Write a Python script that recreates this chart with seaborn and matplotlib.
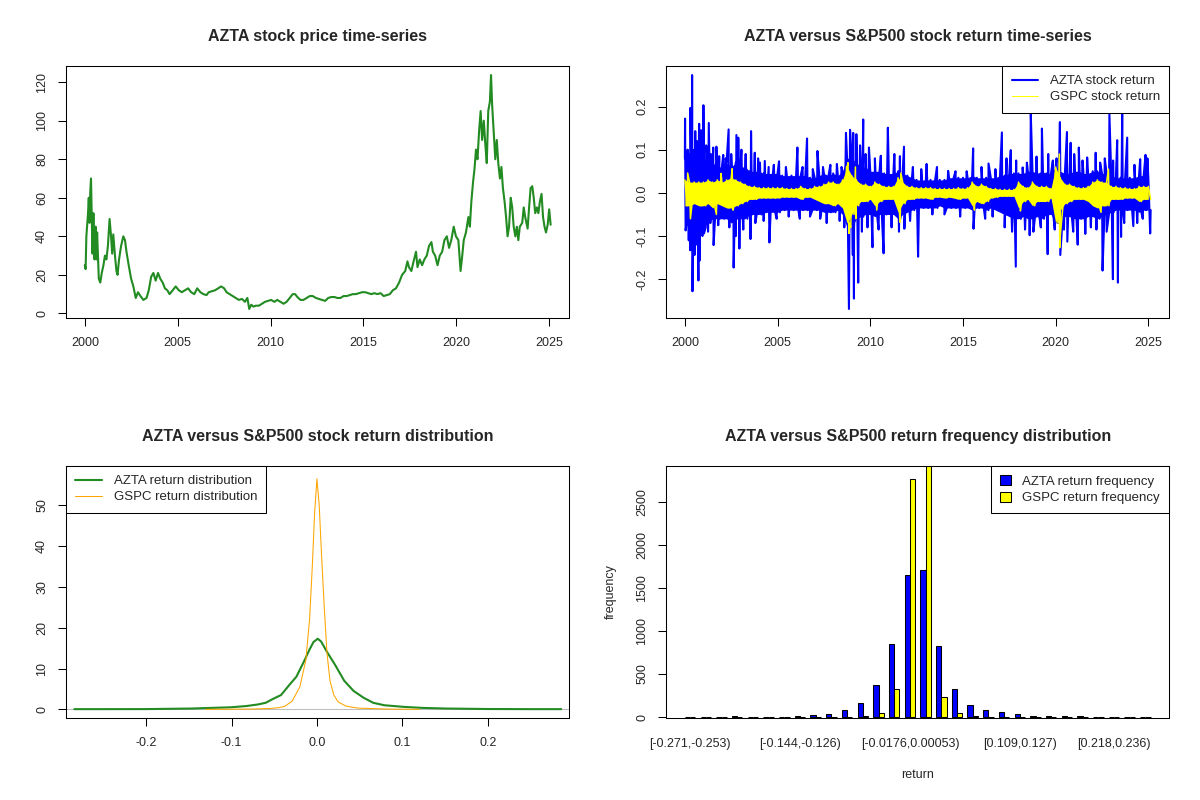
import numpy as np
import pandas as pd
import seaborn as sns
import matplotlib
matplotlib.use("Agg")
import matplotlib.pyplot as plt
from matplotlib.lines import Line2D
from matplotlib.patches import Patch

############### DATA ###############

# AZTA close price: years after 2000 / price
price_t = [0.00, 0.04, 0.08, 0.17, 0.21, 0.25, 0.29, 0.33, 0.37, 0.41,
           0.46, 0.52, 0.58, 0.62, 0.66, 0.75, 0.83, 0.91, 1.00, 1.08,
           1.16, 1.24, 1.33, 1.41, 1.47, 1.53, 1.62, 1.70, 1.76, 1.84,
           1.95, 2.07, 2.16, 2.24, 2.36, 2.49, 2.61, 2.74, 2.86, 2.99,
           3.15, 3.32, 3.44, 3.57, 3.69, 3.81, 3.94, 4.06, 4.19, 4.31,
           4.44, 4.56, 4.73, 4.89, 5.06, 5.22, 5.39, 5.56, 5.72, 5.89,
           6.05, 6.22, 6.38, 6.55, 6.67, 6.84, 7.01, 7.17, 7.34, 7.50,
           7.63, 7.79, 7.96, 8.13, 8.29, 8.46, 8.62, 8.75, 8.85, 8.96,
           9.08, 9.20, 9.37, 9.54, 9.70, 9.87, 10.03, 10.20, 10.36, 10.53,
           10.70, 10.86, 11.03, 11.19, 11.32, 11.44, 11.61, 11.77, 11.94, 12.11,
           12.27, 12.44, 12.60, 12.77, 12.94, 13.10, 13.27, 13.43, 13.60, 13.76,
           13.93, 14.10, 14.26, 14.43, 14.59, 14.76, 14.93, 15.09, 15.26, 15.42,
           15.59, 15.75, 15.92, 16.09, 16.25, 16.42, 16.58, 16.75, 16.92, 17.08,
           17.25, 17.37, 17.45, 17.58, 17.70, 17.83, 17.91, 18.03, 18.16, 18.28,
           18.41, 18.53, 18.66, 18.74, 18.86, 18.99, 19.11, 19.24, 19.36, 19.49,
           19.61, 19.73, 19.86, 19.98, 20.11, 20.23, 20.32, 20.40, 20.52, 20.65,
           20.73, 20.81, 20.90, 20.98, 21.06, 21.14, 21.23, 21.31, 21.39, 21.48,
           21.56, 21.64, 21.72, 21.81, 21.87, 21.93, 22.01, 22.10, 22.18, 22.26,
           22.35, 22.43, 22.51, 22.60, 22.68, 22.76, 22.84, 22.93, 23.01, 23.09,
           23.18, 23.26, 23.34, 23.42, 23.55, 23.63, 23.71, 23.84, 23.92, 24.00,
           24.09, 24.17, 24.25, 24.34, 24.42, 24.50, 24.59, 24.67, 24.75, 24.83,
           24.92, 25.00, 25.08]
price_usd = [25, 23, 40, 52, 60, 47, 63, 70, 50, 31,
             52, 28, 45, 28, 42, 18, 16, 21, 25, 30,
             28, 35, 49, 40, 31, 41, 30, 22, 20, 28,
             35, 40, 38, 32, 25, 18, 14, 8, 11, 9,
             7, 8, 12, 19, 21, 17, 21, 18, 16, 13,
             12, 10, 12, 14, 12, 11, 12, 13, 11, 10,
             13, 11, 10, 9.5, 11, 11.5, 12, 13, 14, 13,
             11, 10, 9, 8, 7, 7.5, 6, 8, 2.3, 4.5,
             3.5, 4, 4, 5, 6, 6.5, 7, 6, 7, 6,
             5, 6, 8, 10, 10, 8.5, 7, 7, 8, 9,
             9, 8, 7.5, 7, 6.5, 8, 8.5, 8.5, 8, 8,
             9, 9, 9.5, 10, 10, 10.5, 11, 11, 10.5, 10,
             10.5, 10, 10.5, 9, 9.5, 10, 12, 13, 16, 20,
             22, 27, 24, 22, 27, 32, 24, 28, 25, 28,
             30, 35, 37, 32, 30, 25, 30, 32, 38, 40,
             34, 38, 45, 40, 38, 22, 30, 38, 42, 50,
             45, 58, 68, 75, 85, 80, 95, 105, 90, 100,
             88, 78, 105, 110, 123.7, 108, 95, 80, 90, 78,
             70, 76, 65, 58, 50, 40, 45, 60, 55, 45,
             40, 45, 38, 45, 47, 55, 50, 44, 55, 65,
             66, 60, 52, 55, 52, 58, 62, 50, 45, 42,
             46, 54, 46]

# daily return band per quarter (2000.00, 2000.25, ..., 2025.00): upper / lower edge
azta_band_hi = [0.08, 0.09, 0.10, 0.09,
                0.08, 0.07, 0.07, 0.06,
                0.06, 0.07, 0.06, 0.07,
                0.06, 0.06, 0.05, 0.05,
                0.05, 0.045, 0.045, 0.045,
                0.045, 0.04, 0.04, 0.04,
                0.04, 0.04, 0.04, 0.035,
                0.035, 0.04, 0.045, 0.04,
                0.045, 0.04, 0.05, 0.08,
                0.08, 0.07, 0.06, 0.06,
                0.05, 0.05, 0.05, 0.045,
                0.045, 0.045, 0.05, 0.045,
                0.04, 0.035, 0.03, 0.03,
                0.03, 0.03, 0.03, 0.03,
                0.03, 0.035, 0.035, 0.035,
                0.035, 0.035, 0.04, 0.035,
                0.035, 0.035, 0.035, 0.035,
                0.04, 0.04, 0.045, 0.045,
                0.045, 0.045, 0.05, 0.05,
                0.045, 0.05, 0.045, 0.045,
                0.06, 0.05, 0.045, 0.045,
                0.05, 0.05, 0.045, 0.045,
                0.05, 0.05, 0.045, 0.045,
                0.04, 0.035, 0.035, 0.035,
                0.035, 0.035, 0.04, 0.04,
                0.035]
azta_band_lo = [-0.06, -0.09, -0.10, -0.09,
                -0.08, -0.07, -0.06, -0.06,
                -0.06, -0.06, -0.07, -0.06,
                -0.06, -0.06, -0.05, -0.05,
                -0.05, -0.045, -0.045, -0.045,
                -0.045, -0.04, -0.04, -0.04,
                -0.04, -0.04, -0.04, -0.04,
                -0.04, -0.04, -0.045, -0.045,
                -0.045, -0.04, -0.05, -0.08,
                -0.08, -0.06, -0.055, -0.05,
                -0.05, -0.055, -0.05, -0.05,
                -0.05, -0.05, -0.06, -0.05,
                -0.045, -0.04, -0.035, -0.035,
                -0.035, -0.035, -0.035, -0.03,
                -0.035, -0.035, -0.035, -0.035,
                -0.035, -0.035, -0.04, -0.035,
                -0.035, -0.04, -0.035, -0.04,
                -0.045, -0.05, -0.055, -0.06,
                -0.06, -0.055, -0.06, -0.06,
                -0.055, -0.06, -0.05, -0.05,
                -0.07, -0.06, -0.055, -0.055,
                -0.06, -0.06, -0.06, -0.055,
                -0.055, -0.06, -0.055, -0.05,
                -0.045, -0.04, -0.04, -0.04,
                -0.04, -0.04, -0.045, -0.04,
                -0.04]
gspc_band_hi = [0.03, 0.025, 0.025, 0.025,
                0.025, 0.03, 0.025, 0.03,
                0.025, 0.03, 0.035, 0.03,
                0.025, 0.02, 0.015, 0.015,
                0.012, 0.012, 0.012, 0.012,
                0.012, 0.012, 0.01, 0.01,
                0.01, 0.015, 0.01, 0.01,
                0.015, 0.015, 0.02, 0.025,
                0.025, 0.02, 0.03, 0.06,
                0.04, 0.03, 0.02, 0.02,
                0.015, 0.025, 0.02, 0.015,
                0.015, 0.015, 0.035, 0.025,
                0.015, 0.015, 0.012, 0.012,
                0.012, 0.012, 0.01, 0.01,
                0.01, 0.01, 0.01, 0.012,
                0.01, 0.012, 0.025, 0.015,
                0.02, 0.015, 0.01, 0.01,
                0.008, 0.008, 0.008, 0.008,
                0.025, 0.015, 0.012, 0.025,
                0.015, 0.015, 0.015, 0.01,
                0.06, 0.035, 0.02, 0.02,
                0.015, 0.012, 0.012, 0.015,
                0.025, 0.03, 0.025, 0.025,
                0.015, 0.015, 0.012, 0.012,
                0.01, 0.01, 0.015, 0.015,
                0.015]
gspc_band_lo = [-0.03, -0.03, -0.025, -0.03,
                -0.03, -0.025, -0.035, -0.025,
                -0.03, -0.035, -0.035, -0.03,
                -0.025, -0.02, -0.015, -0.015,
                -0.012, -0.012, -0.012, -0.012,
                -0.012, -0.01, -0.01, -0.01,
                -0.01, -0.015, -0.01, -0.01,
                -0.015, -0.02, -0.025, -0.025,
                -0.03, -0.025, -0.035, -0.07,
                -0.05, -0.03, -0.02, -0.02,
                -0.015, -0.03, -0.02, -0.015,
                -0.015, -0.015, -0.045, -0.025,
                -0.015, -0.015, -0.012, -0.012,
                -0.012, -0.015, -0.01, -0.01,
                -0.012, -0.01, -0.012, -0.015,
                -0.012, -0.012, -0.03, -0.02,
                -0.025, -0.02, -0.012, -0.01,
                -0.008, -0.008, -0.008, -0.008,
                -0.035, -0.02, -0.015, -0.03,
                -0.02, -0.02, -0.02, -0.012,
                -0.07, -0.04, -0.025, -0.02,
                -0.015, -0.015, -0.015, -0.02,
                -0.03, -0.035, -0.03, -0.03,
                -0.015, -0.015, -0.015, -0.012,
                -0.012, -0.012, -0.02, -0.015,
                -0.015]

# single-day returns sticking out of the band: (year, return)
azta_spikes = [
    (2000.01, 0.172), (2000.04, -0.087), (2000.15, 0.10), (2000.21, -0.110),
    (2000.29, -0.133), (2000.30, 0.197), (2000.39, 0.273), (2000.41, -0.228),
    (2000.52, -0.144), (2000.56, 0.143), (2000.60, -0.12), (2000.65, 0.12),
    (2000.73, -0.203), (2000.77, 0.160), (2000.79, -0.157), (2000.87, 0.145),
    (2000.95, -0.10), (2001.00, 0.203), (2001.03, -0.094), (2001.15, 0.11),
    (2001.25, -0.09), (2001.29, 0.162), (2001.40, 0.09), (2001.53, 0.105),
    (2001.55, -0.121), (2001.70, 0.107), (2001.80, -0.075), (2001.85, 0.085),
    (2002.07, 0.088), (2002.20, 0.08), (2002.36, 0.147), (2002.40, -0.08),
    (2002.50, 0.090), (2002.63, -0.173), (2002.75, -0.10), (2002.78, 0.134),
    (2002.88, 0.128), (2002.94, -0.129), (2003.05, 0.10), (2003.15, -0.085),
    (2003.28, 0.090), (2003.54, -0.107), (2003.57, 0.143), (2003.77, 0.093),
    (2003.80, -0.07), (2003.95, 0.08), (2004.05, 0.07), (2004.25, -0.065),
    (2004.31, 0.074), (2004.52, 0.060), (2004.56, -0.115), (2004.80, 0.065),
    (2004.95, -0.06), (2005.08, 0.073), (2005.45, 0.06), (2005.60, -0.055),
    (2006.07, 0.105), (2006.20, -0.06), (2006.35, 0.06), (2006.59, 0.126),
    (2006.75, -0.055), (2006.90, 0.055), (2007.15, 0.097), (2007.30, -0.06),
    (2007.45, 0.06), (2007.65, -0.07), (2007.85, 0.065), (2008.20, 0.067),
    (2008.35, -0.065), (2008.45, 0.06), (2008.60, -0.08), (2008.69, 0.139),
    (2008.85, -0.269), (2008.91, 0.146), (2009.06, -0.144), (2009.08, 0.139),
    (2009.12, -0.245), (2009.25, 0.136), (2009.35, -0.208), (2009.45, 0.11),
    (2009.55, -0.09), (2009.62, 0.170), (2009.75, 0.09), (2009.85, -0.08),
    (2009.93, 0.105), (2010.12, -0.126), (2010.25, 0.08), (2010.45, -0.085),
    (2010.57, 0.086), (2010.72, -0.140), (2010.95, 0.151), (2011.15, -0.08),
    (2011.30, 0.09), (2011.55, -0.09), (2011.60, 0.085), (2011.82, 0.107),
    (2011.84, -0.083), (2012.15, -0.065), (2012.30, 0.06), (2012.58, -0.148),
    (2012.75, 0.055), (2013.04, 0.067), (2013.35, -0.05), (2013.60, 0.06),
    (2014.00, -0.05), (2014.20, 0.051), (2014.60, 0.05), (2014.85, -0.055),
    (2015.20, 0.05), (2015.55, 0.103), (2015.57, -0.083), (2016.00, 0.06),
    (2016.20, -0.06), (2016.38, 0.068), (2016.60, -0.055), (2016.75, 0.055),
    (2017.10, 0.140), (2017.25, -0.08), (2017.35, 0.08), (2017.58, 0.099),
    (2017.65, -0.09), (2017.85, -0.171), (2017.87, 0.075), (2018.22, 0.059),
    (2018.35, -0.085), (2018.45, 0.07), (2018.60, -0.098), (2018.66, 0.182),
    (2018.80, -0.09), (2018.97, 0.084), (2019.20, -0.08), (2019.26, 0.149),
    (2019.57, -0.142), (2019.60, 0.09), (2019.85, 0.075), (2019.95, -0.085),
    (2020.05, 0.08), (2020.23, 0.164), (2020.25, -0.144), (2020.45, -0.085),
    (2020.61, 0.141), (2020.63, -0.113), (2020.81, 0.116), (2020.95, -0.09),
    (2021.00, 0.09), (2021.19, -0.120), (2021.25, 0.105), (2021.45, 0.075),
    (2021.60, -0.095), (2021.70, 0.082), (2021.90, -0.08), (2022.16, 0.093),
    (2022.20, -0.085), (2022.40, 0.07), (2022.53, -0.180), (2022.65, 0.08),
    (2022.75, -0.09), (2022.90, 0.182), (2023.09, -0.200), (2023.10, 0.075),
    (2023.32, 0.122), (2023.36, -0.208), (2023.53, -0.102), (2023.59, 0.183),
    (2023.70, -0.07), (2023.86, 0.128), (2024.19, -0.077), (2024.25, 0.065),
    (2024.40, -0.07), (2024.56, 0.078), (2024.70, -0.06), (2024.85, 0.088),
    (2024.95, 0.08), (2025.10, -0.094),
]
gspc_spikes = [
    (2000.15, 0.046), (2000.30, -0.060), (2001.70, -0.050), (2001.95, 0.045),
    (2002.55, 0.056), (2002.60, -0.040), (2008.72, 0.060), (2008.80, 0.070),
    (2008.85, -0.094), (2008.95, -0.080), (2009.20, 0.060), (2009.22, -0.060),
    (2010.35, -0.040), (2011.60, -0.068), (2011.65, 0.046), (2015.62, -0.040),
    (2018.10, -0.042), (2020.20, 0.090), (2020.22, -0.127), (2020.25, -0.100),
    (2022.45, -0.045), (2022.85, 0.055),
]

# kernel density of the daily returns
azta_dens_x = [-0.284, -0.25, -0.2, -0.146, -0.132, -0.101, -0.083, -0.069, -0.060, -0.051,
               -0.042, -0.033, -0.024, -0.015, -0.009, -0.004, 0.001, 0.005, 0.012, 0.021,
               0.032, 0.043, 0.055, 0.066, 0.079, 0.102, 0.124, 0.151, 0.2, 0.25, 0.286]
azta_dens_y = [0.05, 0.05, 0.06, 0.2, 0.3, 0.5, 0.8, 1.2, 1.6, 2.6,
               3.5, 5.8, 8.0, 11.8, 14.5, 16.5, 17.3, 16.6, 14.0, 11.0,
               7.0, 4.5, 2.8, 1.6, 1.0, 0.6, 0.35, 0.2, 0.08, 0.05, 0.05]
gspc_dens_x = [-0.13, -0.1, -0.075, -0.056, -0.045, -0.038, -0.029, -0.020, -0.013, -0.0086,
               -0.0054, -0.0027, 0.0, 0.0027, 0.0054, 0.0086, 0.0117, 0.0153, 0.0198, 0.025,
               0.034, 0.048, 0.070, 0.088, 0.12]
gspc_dens_y = [0.0, 0.03, 0.08, 0.2, 0.4, 0.7, 2.0, 5.5, 12, 22,
               35, 48, 56.5, 50, 38, 25, 14, 7, 3.5, 1.8,
               0.8, 0.3, 0.15, 0.05, 0.0]

# return histogram: 30 bins of width ~0.018 starting at -0.271
hist_bin = list(range(1, 31))
azta_freq = [1, 0, 0, 8, 1, 1, 6, 7, 19, 30, 80, 165, 375, 851, 1647,
             1702, 828, 327, 142, 77, 54, 31, 16, 12, 11, 10, 2, 1, 1, 1]
gspc_freq = [0, 0, 0, 0, 0, 0, 0, 0, 1, 6, 2, 12, 48, 320, 2760,
             2919, 227, 42, 12, 3, 2, 1, 0, 0, 0, 0, 0, 0, 0, 0]
hist_tick_bin = [1, 8, 15, 22, 28]
hist_tick_label = ["[-0.271,-0.253)", "[-0.144,-0.126)", "[-0.0176,0.00053)",
                   "[0.109,0.127)", "[0.218,0.236)"]


############### BUILD FRAMES ###############

price = pd.DataFrame({"year": 2000 + np.array(price_t), "price": price_usd})


def return_band(hi, lo):
    quarter = 2000 + 0.25 * np.arange(len(hi))
    return pd.DataFrame({"year": quarter, "hi": hi, "lo": lo})


def return_series(band, spikes):
    # band edges alternate (upper on the quarter, lower half way), spikes slotted in by date
    year = np.concatenate([band["year"], band["year"] + 0.125, [s[0] for s in spikes]])
    ret = np.concatenate([band["hi"], band["lo"], [s[1] for s in spikes]])
    order = np.argsort(year, kind="stable")
    return pd.DataFrame({"year": year[order], "ret": ret[order]})


azta_band = return_band(azta_band_hi, azta_band_lo)
gspc_band = return_band(gspc_band_hi, gspc_band_lo)
azta_ret = return_series(azta_band, azta_spikes)
gspc_ret = return_series(gspc_band, gspc_spikes)

hist = pd.concat([
    pd.DataFrame({"bin": hist_bin, "freq": azta_freq, "series": "AZTA"}),
    pd.DataFrame({"bin": hist_bin, "freq": gspc_freq, "series": "GSPC"}),
])


############### PLOT ###############

sns.set_style("white")
plt.rcParams["font.family"] = ["Liberation Sans", "DejaVu Sans"]
plt.rcParams["axes.unicode_minus"] = False
plt.rcParams["font.size"] = 9

fig = plt.figure(figsize=(12, 8), dpi=100)
ax1 = fig.add_axes([0.0552, 0.6021, 0.4192, 0.3158])
ax2 = fig.add_axes([0.5552, 0.6021, 0.4192, 0.3158])
ax3 = fig.add_axes([0.0552, 0.1021, 0.4192, 0.3158])
ax4 = fig.add_axes([0.5552, 0.1021, 0.4192, 0.3158])


def r_look(ax, title):
    for s in ax.spines.values():
        s.set_visible(True)
        s.set_color("black")
        s.set_linewidth(0.75)
    ax.tick_params(direction="out", length=6, width=0.75, color="black",
                   labelsize=9, pad=7.5, bottom=True, left=True)
    ax.tick_params(axis="y", labelrotation=90, pad=7)
    plt.setp(ax.get_yticklabels(), va="center")
    ax.set_title(title, fontsize=11.5, fontweight="bold", pad=18)
    ax.set_xlabel("")
    ax.set_ylabel("")


def r_legend(ax, handles, labels, loc, **kw):
    leg = ax.legend(handles=handles, labels=labels, loc=loc, borderaxespad=0,
                    fancybox=False, framealpha=1, fontsize=9.5, handletextpad=0.9,
                    borderpad=0.7, labelspacing=0.3, **kw)
    fr = leg.get_frame()
    fr.set_edgecolor("black")
    fr.set_linewidth(0.75)


years = [2000, 2005, 2010, 2015, 2020, 2025]

# price time-series
sns.lineplot(data=price, x="year", y="price", ax=ax1, color="forestgreen",
             linewidth=1.5, estimator=None, sort=False)
ax1.margins(x=0.04, y=0.04)
ax1.set_xticks(years)
ax1.set_yticks([0, 20, 40, 60, 80, 100, 120])
r_look(ax1, "AZTA stock price time-series")

# return time-series: dense core of the band, then the day-to-day line on top
ax2.fill_between(azta_band["year"], azta_band["lo"], azta_band["hi"],
                 color="blue", lw=0, zorder=1)
sns.lineplot(data=azta_ret, x="year", y="ret", ax=ax2, color="blue",
             linewidth=1.5, estimator=None, sort=False, zorder=2)
ax2.fill_between(gspc_band["year"], gspc_band["lo"], gspc_band["hi"],
                 color="yellow", lw=0, zorder=3)
sns.lineplot(data=gspc_ret, x="year", y="ret", ax=ax2, color="yellow",
             linewidth=1.1, estimator=None, sort=False, zorder=4)
ax2.margins(x=0.04, y=0.04)
ax2.set_xticks(years)
ax2.set_yticks([-0.2, -0.1, 0.0, 0.1, 0.2])
ax2.set_yticklabels(["-0.2", "-0.1", "0.0", "0.1", "0.2"])
r_look(ax2, "AZTA versus S&P500 stock return time-series")
r_legend(ax2, [Line2D([], [], color="blue", lw=1.5), Line2D([], [], color="yellow", lw=0.75)],
         ["AZTA stock return", "GSPC stock return"], "upper right", handlelength=2.0)

# return density
ax3.axhline(0, color="#BEBEBE", lw=0.75, zorder=1)
sns.lineplot(x=azta_dens_x, y=azta_dens_y, ax=ax3, color="forestgreen",
             linewidth=1.5, estimator=None, sort=False)
sns.lineplot(x=gspc_dens_x, y=gspc_dens_y, ax=ax3, color="orange",
             linewidth=0.75, estimator=None, sort=False)
ax3.set_xlim(-0.2935, 0.2955)
ax3.set_ylim(-2.2, 59.7)
ax3.set_xticks([-0.2, -0.1, 0.0, 0.1, 0.2])
ax3.set_xticklabels(["-0.2", "-0.1", "0.0", "0.1", "0.2"])
ax3.set_yticks([0, 10, 20, 30, 40, 50])
r_look(ax3, "AZTA versus S&P500 stock return distribution")
r_legend(ax3, [Line2D([], [], color="forestgreen", lw=1.5), Line2D([], [], color="orange", lw=0.75)],
         ["AZTA return distribution", "GSPC return distribution"], "upper left", handlelength=2.0)

# return histogram
sns.barplot(data=hist, x="bin", y="freq", hue="series", ax=ax4,
            palette={"AZTA": "blue", "GSPC": "yellow"}, saturation=1,
            width=2 / 3, edgecolor="black", linewidth=0.75, legend=False)
ax4.set_xlim(-1.52, 30.52)
ax4.set_ylim(-15, 2919)
ax4.set_xticks([b - 1 for b in hist_tick_bin])
ax4.set_xticklabels(hist_tick_label)
ax4.set_yticks([0, 500, 1000, 1500, 2000, 2500])
r_look(ax4, "AZTA versus S&P500 return frequency distribution")
ax4.tick_params(axis="x", length=0, pad=14)
ax4.set_xlabel("return", fontsize=9, labelpad=14)
ax4.set_ylabel("frequency", fontsize=9, labelpad=14)
r_legend(ax4, [Patch(facecolor="blue", edgecolor="black", lw=0.75),
               Patch(facecolor="yellow", edgecolor="black", lw=0.75)],
         ["AZTA return frequency", "GSPC return frequency"], "upper right",
         handlelength=0.8, handleheight=0.8)

fig.savefig("out.png", dpi=100)
